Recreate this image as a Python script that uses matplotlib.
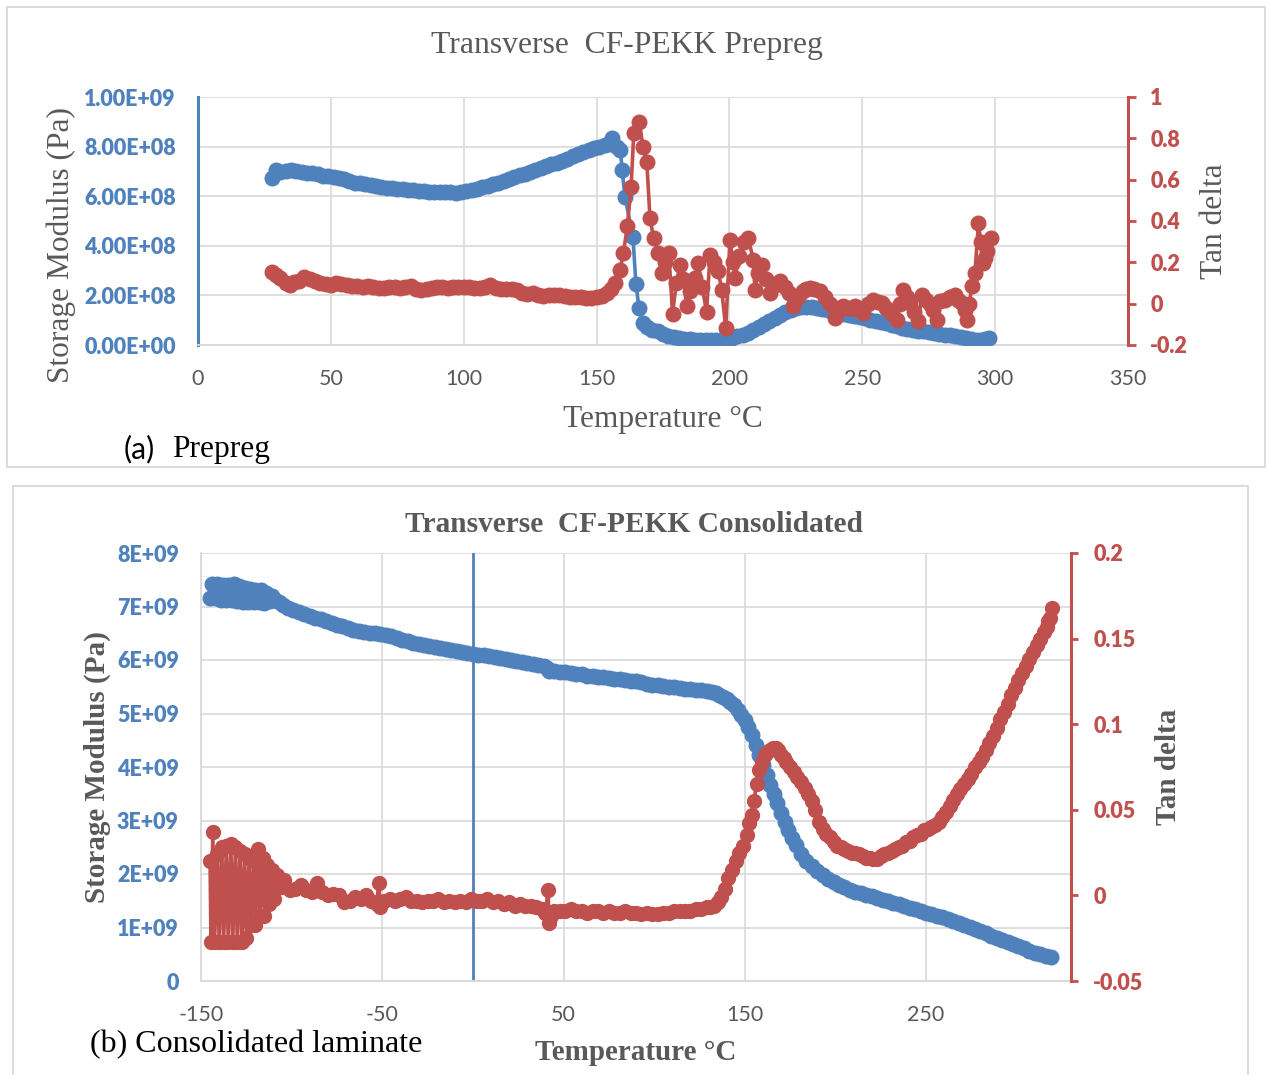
import matplotlib
matplotlib.use("Agg")
import matplotlib.pyplot as plt
from matplotlib.patches import Rectangle

# ---------------- data: (a) prepreg ----------------
prepreg_temp_E = [
    28, 29.5, 31, 33, 35, 37, 39, 41, 43, 45,
    47, 49, 51, 53, 55, 57, 59, 61, 63, 65,
    67, 69, 71, 73, 75, 77, 79, 81, 83, 85,
    87, 89, 91, 93, 95, 97, 99, 101, 103, 105,
    107, 109, 111, 113, 115, 117, 119, 121, 123, 125,
    127, 129, 131, 133, 135, 137, 139, 141, 143, 145,
    147, 149, 151, 153, 154.5, 155.7, 157.5, 159, 159.6, 160.7,
    163.7, 164.8, 166, 167.5, 169, 171, 173, 175, 177, 179,
    181, 183, 185, 187, 189, 191, 193, 195, 197, 199,
    201, 203, 205, 207, 209, 211, 213, 215, 217, 219,
    221, 223, 225, 227, 229, 231, 233, 235, 237, 239,
    241, 243, 245, 247, 249, 251, 253, 255, 257, 259,
    261, 263, 265, 267, 269, 271, 273, 275, 277, 279,
    281, 283, 285, 287, 289, 291, 293, 294.5, 296, 297.5,
]
prepreg_E_1e8 = [
    6.72, 7.05, 6.98, 7.03, 7.05, 7.00, 6.98, 6.95, 6.92, 6.88,
    6.82, 6.80, 6.77, 6.72, 6.68, 6.62, 6.55, 6.52, 6.50, 6.47,
    6.42, 6.38, 6.35, 6.32, 6.30, 6.28, 6.26, 6.24, 6.22, 6.20,
    6.18, 6.17, 6.16, 6.16, 6.15, 6.13, 6.17, 6.20, 6.24, 6.30,
    6.36, 6.42, 6.48, 6.55, 6.62, 6.68, 6.76, 6.84, 6.90, 6.96,
    7.04, 7.12, 7.20, 7.28, 7.35, 7.43, 7.52, 7.62, 7.70, 7.79,
    7.88, 7.95, 8.00, 8.08, 8.12, 8.35, 8.00, 7.86, 7.05, 5.97,
    4.35, 2.46, 1.49, 0.90, 0.72, 0.62, 0.55, 0.45, 0.38, 0.33,
    0.28, 0.25, 0.24, 0.22, 0.21, 0.20, 0.20, 0.20, 0.22, 0.26,
    0.30, 0.36, 0.42, 0.50, 0.60, 0.72, 0.85, 0.98, 1.08, 1.20,
    1.32, 1.42, 1.48, 1.52, 1.54, 1.53, 1.50, 1.46, 1.42, 1.37,
    1.32, 1.27, 1.22, 1.17, 1.12, 1.07, 1.02, 0.98, 0.93, 0.88,
    0.82, 0.76, 0.70, 0.65, 0.60, 0.57, 0.55, 0.52, 0.48, 0.45,
    0.42, 0.40, 0.37, 0.33, 0.30, 0.26, 0.20, 0.20, 0.25, 0.27,
]
prepreg_temp_tan = [
    28, 29.5, 31, 33, 34.5, 36, 38, 40, 42, 44,
    46, 48, 50, 52, 54, 56, 58, 60, 62, 64,
    66, 68, 70, 72, 74, 76, 78, 80, 82, 84,
    86, 88, 90, 92, 94, 96, 98, 100, 102, 104,
    106, 108, 110, 112, 114, 116, 118, 120, 122, 124,
    126, 128, 130, 132, 134, 136, 138, 140, 142, 144,
    146, 148, 150, 152, 153.8, 155.5, 156.9, 158.8, 160.1, 161.6,
    163, 164, 166, 167.5, 168.9, 170.1, 171.5, 173.2, 174.5, 175.8,
    177.2, 178.6, 180, 181.4, 182.7, 183.9, 185.3, 187, 188.3, 189.7,
    191.4, 192.7, 194.2, 195.8, 197.1, 198.6, 200.2, 201.3, 202.1, 203.7,
    205.3, 207.1, 209, 209.6, 210.8, 212.1, 213.6, 215.3, 217, 219,
    220.8, 222.5, 224, 225.7, 227.5, 229, 230.3, 232, 234.1, 236,
    237.8, 239.7, 241.3, 242.9, 244.6, 246, 247.3, 248.9, 250.4, 252.2,
    254.1, 255.8, 257.3, 259, 261, 263, 264.2, 265.4, 266.7, 268,
    269.6, 271.1, 272.4, 274, 275.5, 276.8, 278, 279.3, 281, 283,
    284.9, 286.2, 287.4, 288.5, 289.3, 290.3, 291.2, 292.4, 293.7, 294.6,
    295.6, 296.2, 296.8, 298.3,
]
prepreg_tan = [
    0.155, 0.140, 0.125, 0.100, 0.090, 0.105, 0.110, 0.130, 0.120, 0.110,
    0.100, 0.095, 0.090, 0.100, 0.095, 0.090, 0.085, 0.085, 0.080, 0.085,
    0.080, 0.075, 0.075, 0.080, 0.080, 0.075, 0.080, 0.085, 0.070, 0.065,
    0.070, 0.075, 0.080, 0.080, 0.078, 0.080, 0.080, 0.082, 0.080, 0.078,
    0.075, 0.080, 0.090, 0.075, 0.070, 0.072, 0.070, 0.065, 0.050, 0.045,
    0.050, 0.040, 0.035, 0.040, 0.042, 0.040, 0.035, 0.030, 0.030, 0.030,
    0.025, 0.028, 0.030, 0.035, 0.050, 0.070, 0.099, 0.163, 0.244, 0.378,
    0.566, 0.824, 0.880, 0.760, 0.687, 0.413, 0.316, 0.244, 0.150, 0.200,
    0.244, -0.050, 0.100, 0.185, 0.120, -0.013, 0.060, 0.124, 0.196, 0.080,
    -0.038, 0.237, 0.200, 0.156, 0.066, -0.119, 0.310, 0.200, 0.124, 0.229,
    0.300, 0.318, 0.211, 0.066, 0.150, 0.189, 0.120, 0.051, 0.090, 0.108,
    0.080, 0.050, -0.013, 0.030, 0.060, 0.070, 0.075, 0.070, 0.059, 0.030,
    0.000, -0.070, -0.030, -0.013, -0.020, -0.020, -0.013, -0.030, -0.046, 0.000,
    0.018, 0.010, 0.002, -0.020, -0.050, -0.079, 0.000, 0.066, 0.030, 0.002,
    -0.040, -0.086, 0.042, 0.020, 0.000, -0.030, -0.079, 0.011, 0.020, 0.030,
    0.042, 0.020, 0.002, -0.030, -0.079, 0.000, 0.084, 0.147, 0.389, 0.300,
    0.196, 0.220, 0.253, 0.318,
]

# ---------------- data: (b) consolidated ----------------
consol_temp_E = [
    -145, -144, -142, -141, -139, -138, -136, -135, -133, -132,
    -130, -129, -127, -126, -124, -123, -121, -120, -118, -117,
    -115, -114, -112, -111, -109, -107, -105, -102, -99, -96,
    -93, -90, -87, -84, -81, -78, -75, -72, -69, -66,
    -63, -60, -57, -54, -51, -48, -45, -42, -39, -36,
    -33, -30, -27, -24, -21, -18, -15, -12, -9, -6,
    -3, 0, 3, 6, 9, 12, 15, 18, 21, 24,
    27, 30, 33, 36, 39, 41, 42, 45, 48, 51,
    54, 57, 60, 63, 66, 69, 72, 75, 78, 81,
    84, 87, 90, 93, 96, 99, 102, 105, 108, 111,
    114, 117, 120, 123, 126, 129, 132, 134, 136, 138,
    140, 142, 144, 146, 148, 150, 152, 154, 156, 158,
    160, 162, 164, 166, 168, 170, 172, 174, 176, 178,
    181, 184, 187, 190, 193, 196, 199, 202, 205, 208,
    211, 214, 217, 220, 223, 226, 229, 232, 235, 238,
    241, 244, 247, 250, 253, 256, 259, 262, 265, 268,
    271, 274, 277, 280, 283, 286, 289, 292, 295, 298,
    301, 304, 307, 310, 313, 316, 319,
]
consol_E_1e9 = [
    7.15, 7.42, 7.15, 7.42, 7.13, 7.40, 7.12, 7.40, 7.12, 7.42,
    7.10, 7.38, 7.08, 7.35, 7.08, 7.32, 7.08, 7.30, 7.08, 7.30,
    7.07, 7.25, 7.10, 7.20, 7.12, 7.08, 7.03, 6.98, 6.94, 6.90,
    6.86, 6.82, 6.79, 6.76, 6.72, 6.69, 6.66, 6.63, 6.60, 6.57,
    6.55, 6.53, 6.51, 6.50, 6.48, 6.46, 6.44, 6.41, 6.38, 6.35,
    6.32, 6.30, 6.28, 6.26, 6.24, 6.22, 6.20, 6.19, 6.17, 6.15,
    6.14, 6.12, 6.10, 6.09, 6.07, 6.05, 6.04, 6.02, 6.00, 5.98,
    5.96, 5.94, 5.92, 5.90, 5.88, 5.85, 5.80, 5.79, 5.78, 5.77,
    5.75, 5.74, 5.73, 5.71, 5.70, 5.69, 5.68, 5.67, 5.65, 5.64,
    5.62, 5.61, 5.60, 5.58, 5.56, 5.54, 5.53, 5.51, 5.50, 5.49,
    5.47, 5.46, 5.45, 5.44, 5.43, 5.42, 5.40, 5.38, 5.35, 5.31,
    5.27, 5.22, 5.15, 5.07, 4.98, 4.88, 4.75, 4.60, 4.42, 4.23,
    4.03, 3.85, 3.67, 3.50, 3.32, 3.14, 2.97, 2.82, 2.68, 2.55,
    2.38, 2.25, 2.15, 2.06, 1.98, 1.91, 1.85, 1.80, 1.75, 1.71,
    1.67, 1.64, 1.61, 1.58, 1.55, 1.52, 1.49, 1.46, 1.43, 1.40,
    1.37, 1.34, 1.31, 1.28, 1.25, 1.22, 1.19, 1.16, 1.12, 1.09,
    1.05, 1.01, 0.97, 0.93, 0.89, 0.85, 0.81, 0.77, 0.73, 0.69,
    0.65, 0.61, 0.57, 0.53, 0.50, 0.47, 0.45,
]
consol_temp_tan = [
    -145, -144.5, -143.5, -142.5, -141, -140, -138.5, -137.5, -136, -135,
    -133.5, -132.5, -131, -130, -128.5, -127.5, -126, -125, -123.5, -122.5,
    -121, -120, -118.5, -117.5, -116, -115, -113.5, -112.5, -111, -110,
    -108, -106, -104, -101, -98, -95, -92, -89, -86, -83,
    -80, -77, -74, -71, -68, -65, -62, -59, -56, -53,
    -52, -51, -49, -46, -43, -40, -37, -34, -31, -28,
    -25, -22, -19, -16, -13, -10, -7, -4, -1, 2,
    5, 8, 11, 14, 17, 20, 23, 26, 29, 32,
    35, 38, 40, 41.5, 42, 43, 45, 48, 51, 54,
    57, 60, 63, 66, 69, 72, 75, 78, 81, 84,
    87, 90, 93, 96, 99, 102, 105, 108, 111, 114,
    117, 120, 123, 126, 129, 131, 133, 135, 137, 139,
    141, 143, 145, 147, 149, 151, 152.5, 154, 155, 156.5,
    158, 159.5, 161, 162.5, 164, 165.5, 167, 168.5, 170, 171.5,
    173, 175, 177, 179, 181, 183, 185, 187, 189, 191,
    193, 195, 197, 199, 201, 203, 205, 207, 209, 211,
    213, 215, 217, 219, 221, 223, 225, 227, 229, 231,
    233, 235, 237, 239, 241, 243, 245, 247, 249, 251,
    253, 255, 257, 259, 261, 263, 265, 267, 269, 271,
    273, 275, 277, 279, 281, 283, 285, 287, 289, 291,
    293, 295, 297, 299, 301, 303, 305, 307, 309, 311,
    313, 315, 316.5, 317.5, 318.5, 319.3,
]
consol_tan = [
    0.020, -0.027, 0.037, -0.027, 0.024, -0.027, 0.028, -0.027, 0.029, -0.027,
    0.030, -0.027, 0.028, -0.027, 0.026, -0.027, 0.024, -0.025, 0.022, -0.017,
    0.020, -0.017, 0.027, -0.012, 0.022, -0.012, 0.018, -0.005, 0.015, -0.002,
    0.012, 0.005, 0.009, 0.003, 0.004, 0.006, 0.003, 0.002, 0.007, 0.002,
    0.000, 0.001, 0.000, -0.004, -0.003, -0.001, -0.002, 0.000, -0.003, -0.005,
    0.007, -0.007, -0.003, -0.002, -0.003, -0.002, -0.001, -0.003, -0.003, -0.004,
    -0.003, -0.003, -0.002, -0.004, -0.003, -0.004, -0.003, -0.004, -0.002, -0.003,
    -0.003, -0.002, -0.004, -0.003, -0.005, -0.004, -0.006, -0.005, -0.006, -0.006,
    -0.007, -0.008, -0.010, 0.003, -0.016, -0.012, -0.009, -0.009, -0.009, -0.008,
    -0.009, -0.009, -0.010, -0.009, -0.009, -0.010, -0.009, -0.010, -0.010, -0.009,
    -0.010, -0.010, -0.011, -0.010, -0.011, -0.011, -0.010, -0.010, -0.009, -0.009,
    -0.009, -0.009, -0.008, -0.008, -0.007, -0.007, -0.006, -0.004, -0.001, 0.004,
    0.010, 0.015, 0.020, 0.025, 0.029, 0.035, 0.042, 0.047, 0.055, 0.065,
    0.073, 0.078, 0.082, 0.084, 0.085, 0.086, 0.086, 0.085, 0.082, 0.080,
    0.078, 0.075, 0.072, 0.069, 0.066, 0.063, 0.059, 0.055, 0.050, 0.043,
    0.039, 0.036, 0.034, 0.031, 0.029, 0.028, 0.027, 0.026, 0.025, 0.025,
    0.024, 0.023, 0.022, 0.022, 0.021, 0.021, 0.023, 0.024, 0.025, 0.026,
    0.027, 0.028, 0.029, 0.031, 0.032, 0.034, 0.035, 0.036, 0.038, 0.039,
    0.040, 0.041, 0.043, 0.046, 0.049, 0.052, 0.056, 0.059, 0.062, 0.065,
    0.068, 0.071, 0.075, 0.078, 0.081, 0.085, 0.089, 0.093, 0.098, 0.103,
    0.107, 0.112, 0.117, 0.121, 0.126, 0.130, 0.134, 0.138, 0.142, 0.146,
    0.150, 0.154, 0.157, 0.160, 0.162, 0.168,
]

# tick values / labels
a_xticks = [0, 50, 100, 150, 200, 250, 300, 350]
a_Eticks = [0, 2e8, 4e8, 6e8, 8e8, 1e9]
a_tanticks = [-0.2, 0, 0.2, 0.4, 0.6, 0.8, 1]
a_tanlabels = ['-0.2', '0', '0.2', '0.4', '0.6', '0.8', '1']
b_xticks = [-150, -50, 50, 150, 250]
b_Eticks = [0, 1e9, 2e9, 3e9, 4e9, 5e9, 6e9, 7e9, 8e9]
b_Elabels = ['0', '1E+09', '2E+09', '3E+09', '4E+09', '5E+09', '6E+09', '7E+09', '8E+09']
b_tanticks = [-0.05, 0, 0.05, 0.1, 0.15, 0.2]
b_tanlabels = ['-0.05', '0', '0.05', '0.1', '0.15', '0.2']

# ---------------- styling ----------------
BLUE = '#4F81BD'
RED = '#C0504D'
GRID = '#D9D9D9'
GRAYT = '#595959'
SERIF = ['Liberation Serif', 'DejaVu Serif']
SANS = ['Lato', 'DejaVu Sans']
plt.rcParams['font.family'] = SANS

W, H = 1266, 1075
fig = plt.figure(figsize=(W / 100, H / 100), dpi=100)


def fx(x):
    return x / W


def fy(y):
    return 1 - y / H


# panel frames
fig.add_artist(Rectangle((fx(7), fy(467)), (1265 - 7) / W, (467 - 7) / H,
                         transform=fig.transFigure, fill=False, ec=GRID, lw=1.3))
fig.add_artist(Rectangle((fx(13), fy(1090)), (1248 - 13) / W, (1090 - 486) / H,
                         transform=fig.transFigure, fill=False, ec=GRID, lw=1.3))

TICKFS = 15.5

# ================= (a) prepreg =================
ax1 = fig.add_axes([fx(198), fy(345), (1128 - 198) / W, (345 - 97) / H])
ax1.set_xlim(0, 350)
ax1.set_ylim(0, 1e9)
ax1.plot(prepreg_temp_E, [v * 1e8 for v in prepreg_E_1e8], '-o', color=BLUE,
         lw=2.6, ms=10.5, mec=BLUE, mfc=BLUE, zorder=3)
ax1.set_xticks(a_xticks, labels=[str(t) for t in a_xticks], color=GRAYT,
               fontsize=TICKFS, fontfamily=SANS)
ax1.set_yticks(a_Eticks, labels=['{:.2E}'.format(v) for v in a_Eticks], color=BLUE,
               fontsize=TICKFS, fontweight='heavy', fontfamily=SANS)
ax1.tick_params(axis='both', length=0)
ax1.tick_params(axis='y', pad=16)
ax1.tick_params(axis='x', pad=17)
ax1.grid(True, color=GRID, lw=1.2)
ax1.set_axisbelow(True)
for s in ('top', 'right'):
    ax1.spines[s].set_visible(False)
ax1.spines['left'].set_color(BLUE)
ax1.spines['left'].set_linewidth(2.2)
ax1.spines['bottom'].set_color(GRID)
ax1.spines['bottom'].set_linewidth(1.3)

ax2 = ax1.twinx()
ax2.set_ylim(-0.2, 1)
ax2.plot(prepreg_temp_tan, prepreg_tan, '-o', color=RED, lw=2.6, ms=10.5,
         mec=RED, mfc=RED, zorder=3)
ax2.set_yticks(a_tanticks, labels=a_tanlabels, color=RED, fontsize=TICKFS,
               fontweight='heavy', fontfamily=SANS)
ax2.tick_params(axis='y', direction='out', length=6, width=2, color=RED, pad=10)
for s in ('top', 'left', 'bottom'):
    ax2.spines[s].set_visible(False)
ax2.spines['right'].set_color(RED)
ax2.spines['right'].set_linewidth(2.2)

fig.text(fx(627), fy(46), 'Transverse  CF-PEKK Prepreg', ha='center', va='center',
         fontsize=22.8, family=SERIF, color=GRAYT)
fig.text(fx(663), fy(419), 'Temperature °C', ha='center', va='center',
         fontsize=22.6, family=SERIF, color=GRAYT)
fig.text(fx(61), fy(245), 'Storage Modulus (Pa)', ha='center', va='center',
         rotation=90, fontsize=22.6, family=SERIF, color=GRAYT)
fig.text(fx(1215), fy(221), 'Tan delta', ha='center', va='center',
         rotation=90, fontsize=22.6, family=SERIF, color=GRAYT)
fig.text(fx(124), fy(449), '(a)', ha='left', va='center', fontsize=21.5,
         family=SANS, color='black')
fig.text(fx(172), fy(449), 'Prepreg', ha='left', va='center', fontsize=22.6,
         family=SERIF, color='black')

# ================= (b) consolidated =================
ax3 = fig.add_axes([fx(201), fy(981), (1071 - 201) / W, (981 - 553) / H])
ax3.set_xlim(-150, 330)
ax3.set_ylim(0, 8e9)
ax3.axvline(0, color=BLUE, lw=2.0, zorder=1.5)
ax3.plot(consol_temp_E, [v * 1e9 for v in consol_E_1e9], '-o', color=BLUE,
         lw=2.6, ms=10.5, mec=BLUE, mfc=BLUE, zorder=3)
ax3.set_xticks(b_xticks, labels=[str(t) for t in b_xticks], color=GRAYT,
               fontsize=TICKFS, fontfamily=SANS)
ax3.set_yticks(b_Eticks, labels=b_Elabels, color=BLUE, fontsize=TICKFS,
               fontweight='heavy', fontfamily=SANS)
ax3.tick_params(axis='both', length=0)
ax3.tick_params(axis='y', pad=16)
ax3.tick_params(axis='x', pad=17)
ax3.grid(True, color=GRID, lw=1.2)
ax3.set_axisbelow(True)
for s in ('top', 'right'):
    ax3.spines[s].set_visible(False)
ax3.spines['left'].set_color(GRID)
ax3.spines['left'].set_linewidth(1.3)
ax3.spines['bottom'].set_color(GRID)
ax3.spines['bottom'].set_linewidth(1.3)

ax4 = ax3.twinx()
ax4.set_ylim(-0.05, 0.2)
ax4.plot(consol_temp_tan, consol_tan, '-o', color=RED, lw=2.6, ms=10,
         mec=RED, mfc=RED, zorder=3)
ax4.set_yticks(b_tanticks, labels=b_tanlabels, color=RED, fontsize=TICKFS,
               fontweight='heavy', fontfamily=SANS)
ax4.tick_params(axis='y', direction='out', length=5, width=2, color=RED, pad=11)
for s in ('top', 'left', 'bottom'):
    ax4.spines[s].set_visible(False)
ax4.spines['right'].set_color(RED)
ax4.spines['right'].set_linewidth(2.2)

fig.text(fx(634), fy(524), 'Transverse  CF-PEKK Consolidated', ha='center', va='center',
         fontsize=21.2, fontweight='bold', family=SERIF, color=GRAYT)
fig.text(fx(636), fy(1053), 'Temperature °C', ha='center', va='center',
         fontsize=21, fontweight='bold', family=SERIF, color=GRAYT)
fig.text(fx(97), fy(767), 'Storage Modulus (Pa)', ha='center', va='center',
         rotation=90, fontsize=21, fontweight='bold', family=SERIF, color=GRAYT)
fig.text(fx(1168), fy(767), 'Tan delta', ha='center', va='center',
         rotation=90, fontsize=21, fontweight='bold', family=SERIF, color=GRAYT)
fig.text(fx(90), fy(1045), '(b) Consolidated laminate', ha='left', va='center',
         fontsize=23, family=SERIF, color='black')

fig.savefig('out.png', dpi=100)
